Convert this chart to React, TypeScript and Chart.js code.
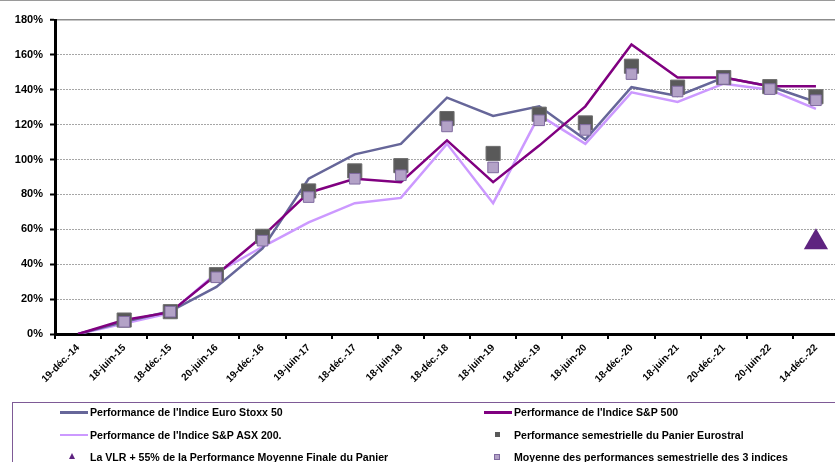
import React, { useEffect, useRef } from 'react';
import { Chart, registerables } from 'chart.js';

Chart.register(...registerables);

const labels = [
  '19-déc.-14', '18-juin-15', '18-déc.-15', '20-juin-16', '19-déc.-16', '19-juin-17',
  '18-déc.-17', '18-juin-18', '18-déc.-18', '18-juin-19', '18-déc.-19', '18-juin-20',
  '18-déc.-20', '18-juin-21', '20-déc.-21', '20-juin-22', '14-déc.-22',
];

const euroStoxx50 = [0, 7, 13, 27, 49, 89, 103, 109, 135.5, 125, 130.5, 111.5, 141.5, 136.5, 147, 142, 133];
const sp500 = [0, 8, 12.5, 34, 56, 81, 89, 87, 111, 87, 108, 130.5, 166, 147, 147, 142, 142];
const asx200 = [0, 6, 12, 35, 50, 64, 75, 78, 109, 75, 125.5, 109, 138.5, 133, 143.5, 140, 129];
const panierEurostral = [null, 8, 12.8, 34, 56, 82, 93.5, 96.5, 123.5, 103.5, 126, 121, 153.5, 141.5, 147, 141.8, 136];
const moyenne3 = [null, 7, 12.8, 32.5, 53.5, 78.5, 89, 91, 119, 95.5, 122.5, 117, 149, 139, 146.2, 140.4, 134];
const vlr = [null, null, null, null, null, null, null, null, null, null, null, null, null, null, null, null, 52.6];

const yTicks = [0, 20, 40, 60, 80, 100, 120, 140, 160, 180];

const legendItems = [
  'Performance de l\'Indice Euro Stoxx 50',
  'Performance de l\'Indice S&P 500',
  'Performance de l\'Indice S&P ASX 200.',
  'Performance semestrielle du Panier Eurostral',
  'La VLR + 55% de la Performance Moyenne Finale du Panier',
  'Moyenne des performances semestrielle des 3 indices',
];

const C_EURO = '#666699';
const C_SP = '#800080';
const C_ASX = '#CC99FF';
const C_PANIER = '#595959';
const C_MOY = '#B3A2C7';
const C_MOY_B = '#7F6A9F';
const C_VLR = '#5E2380';

const FONT = "'Liberation Sans', Arial, sans-serif";

export default function App() {
  const ref = useRef<HTMLCanvasElement>(null);

  useEffect(() => {
    const chart = new Chart(ref.current!, {
      type: 'line',
      data: {
        labels,
        datasets: [
          { label: legendItems[0], data: euroStoxx50, borderColor: C_EURO, borderWidth: 2.5, pointRadius: 0, order: 4 },
          { label: legendItems[1], data: sp500, borderColor: C_SP, borderWidth: 2.5, pointRadius: 0, order: 3 },
          { label: legendItems[2], data: asx200, borderColor: C_ASX, borderWidth: 2.5, pointRadius: 0, order: 5 },
          {
            label: legendItems[3], data: panierEurostral, showLine: false, pointStyle: 'rect', pointRadius: 10,
            backgroundColor: C_PANIER, borderColor: '#6e6e6e', borderWidth: 1, order: 2,
          },
          {
            label: legendItems[4], data: vlr, showLine: false, pointStyle: 'triangle', pointRadius: 14,
            backgroundColor: C_VLR, borderColor: C_VLR, borderWidth: 0, order: 1,
          },
          {
            label: legendItems[5], data: moyenne3, showLine: false, pointStyle: 'rect', pointRadius: 7.5,
            backgroundColor: C_MOY, borderColor: C_MOY_B, borderWidth: 1, order: 0,
          },
        ],
      },
      options: {
        responsive: false,
        animation: false,
        events: [],
        layout: { padding: { top: 20, left: 0, right: 0, bottom: 0 } },
        plugins: { legend: { display: false }, tooltip: { enabled: false } },
        scales: {
          x: {
            offset: true,
            grid: { offset: true, drawOnChartArea: false, color: '#000', lineWidth: 2, tickLength: 5 },
            border: { color: '#000', width: 3 },
            ticks: {
              autoSkip: false, maxRotation: 45, minRotation: 45, color: '#000', padding: 3,
              font: { family: FONT, size: 10, weight: 'bold' },
            },
            afterFit: (s: any) => { s.height = 128; },
          },
          y: {
            min: 0, max: 180,
            afterBuildTicks: (s: any) => { s.ticks = yTicks.map((v) => ({ value: v })); },
            ticks: {
              color: '#000', padding: 7,
              font: { family: FONT, size: 11, weight: 'bold' },
              callback: (v: any) => v + '%',
            },
            grid: {
              color: (c: any) => (c.tick && c.tick.value === 180 ? '#8c8c8c' : '#a6a6a6'),
              lineWidth: (c: any) => (c.tick && c.tick.value === 180 ? 1.5 : 1),
              tickColor: '#000', tickLength: 5, tickWidth: 2,
            },
            border: {
              color: '#000', width: 3,
              dash: (c: any) => (c.tick && c.tick.value === 180 ? [] : [2, 1]),
            },
            afterFit: (s: any) => { s.width = 55; },
          },
        },
      },
    });
    return () => chart.destroy();
  }, []);

  const textStyle: React.CSSProperties = {
    position: 'absolute', fontFamily: FONT, fontWeight: 'bold', fontSize: 10.6, color: '#000',
    whiteSpace: 'nowrap', lineHeight: '12px',
  };
  const line = (left: number, top: number, color: string): React.CSSProperties => ({
    position: 'absolute', left, top: top - 1, width: 28, height: 2.5, background: color,
  });

  return (
    <div style={{ position: 'absolute', left: 0, top: 0, width: 835, height: 462, overflow: 'hidden', background: '#fff' }}>
      <div style={{ position: 'absolute', left: 0, top: 0, width: 835, height: 1, background: '#9a9a9a' }} />
      <canvas ref={ref} width={853} height={462} style={{ position: 'absolute', left: 0, top: 0 }} />
      <div style={{ position: 'absolute', left: 12, top: 402, width: 840, height: 80, border: '1.5px solid #7E5A96', boxSizing: 'border-box' }} />
      <div style={line(60, 412, C_EURO)} />
      <div style={{ ...textStyle, left: 90, top: 406 }}>{legendItems[0]}</div>
      <div style={line(484, 412, C_SP)} />
      <div style={{ ...textStyle, left: 514, top: 406 }}>{legendItems[1]}</div>
      <div style={line(60, 434.5, C_ASX)} />
      <div style={{ ...textStyle, left: 90, top: 428.5 }}>{legendItems[2]}</div>
      <div style={{ position: 'absolute', left: 494.5, top: 432, width: 5, height: 5, background: C_PANIER }} />
      <div style={{ ...textStyle, left: 514, top: 428.5 }}>{legendItems[3]}</div>
      <div style={{
        position: 'absolute', left: 69, top: 453, width: 0, height: 0,
        borderLeft: '3.5px solid transparent', borderRight: '3.5px solid transparent', borderBottom: '6px solid ' + C_VLR,
      }} />
      <div style={{ ...textStyle, left: 90, top: 450.5 }}>{legendItems[4]}</div>
      <div style={{ position: 'absolute', left: 494, top: 453.5, width: 6, height: 6, background: C_MOY, border: '1px solid ' + C_MOY_B, boxSizing: 'border-box' }} />
      <div style={{ ...textStyle, left: 514, top: 450.5 }}>{legendItems[5]}</div>
    </div>
  );
}
